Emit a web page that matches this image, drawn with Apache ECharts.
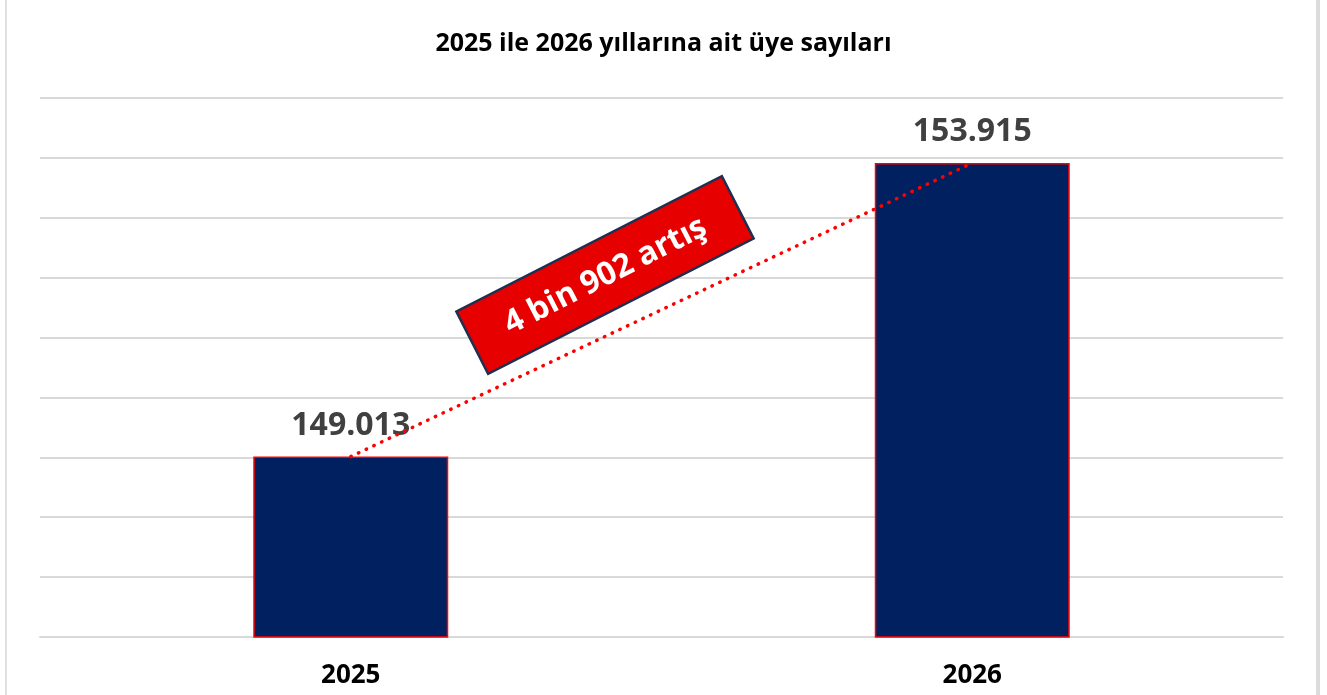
<!DOCTYPE html>
<html lang="tr">
<head>
    <meta charset="UTF-8">
    <title>Üye sayıları</title>
    <script src="https://cdn.jsdelivr.net/npm/echarts@6/dist/echarts.min.js"></script>
    <style>
        html, body {
            margin: 0;
            height: 100%;
            background: #fff;
        }
        #main {
            width: 1327px;
            height: 695px;
        }
    </style>
</head>
<body>
<div id="main"></div>
<script>
    // veriler
    var years = ['2025', '2026'];
    var members = [149013, 153915];
    var increaseText = '4 bin 902 artış';

    var fontFam = '"Open Sans", "Noto Sans", sans-serif';

    function fmt(v) {
        return String(v).replace(/\B(?=(\d{3})+(?!\d))/g, '.');
    }

    var myChart = echarts.init(document.getElementById('main'));
    var option = {
        backgroundColor: '#fff',
        animation: false,
        title: {
            text: '2025 ile 2026 yıllarına ait üye sayıları',
            left: 'center',
            top: 26,
            textStyle: {
                fontFamily: fontFam,
                fontSize: 25,
                fontWeight: 'bold',
                color: '#000'
            }
        },
        grid: {
            left: 40,
            right: 44,
            top: 98,
            bottom: 58
        },
        xAxis: {
            type: 'category',
            data: years,
            axisLine: {lineStyle: {color: '#d9d9d9', width: 2}},
            axisTick: {show: false},
            axisLabel: {
                margin: 26,
                fontFamily: fontFam,
                fontSize: 26,
                fontWeight: 'bold',
                color: '#000'
            }
        },
        yAxis: {
            type: 'value',
            min: 146000,
            max: 155000,
            interval: 1000,
            axisLabel: {show: false},
            axisLine: {show: false},
            axisTick: {show: false},
            splitLine: {lineStyle: {color: '#d9d9d9', width: 2}}
        },
        series: [{
            type: 'bar',
            data: members,
            barWidth: 195,
            itemStyle: {
                color: '#002060',
                borderColor: '#ff0000',
                borderWidth: 1.5
            },
            label: {
                show: true,
                position: 'top',
                distance: 15,
                formatter: function (p) {
                    return fmt(p.value);
                },
                fontFamily: fontFam,
                fontSize: 32,
                fontWeight: 'bold',
                color: '#404040'
            },
            markLine: {
                silent: true,
                symbol: 'none',
                label: {show: false},
                lineStyle: {
                    color: '#ff0000',
                    width: 3.5,
                    type: [0.5, 8],
                    cap: 'round'
                },
                data: [[
                    {coord: [years[0], members[0]]},
                    {coord: [years[1], members[1]]}
                ]]
            }
        }],
        graphic: [{
            type: 'group',
            x: 605,
            y: 275,
            z: 100,
            rotation: 27 * Math.PI / 180,
            children: [{
                type: 'rect',
                z: 100,
                shape: {x: -149, y: -35, width: 298, height: 70},
                style: {fill: '#e60000', stroke: '#1f2f50', lineWidth: 2.5}
            }, {
                type: 'text',
                z: 101,
                x: 0,
                y: 1,
                style: {
                    text: increaseText,
                    fill: '#fff',
                    font: 'bold 32px ' + fontFam,
                    align: 'center',
                    verticalAlign: 'middle'
                }
            }]
        }, {
            type: 'rect',
            shape: {x: 1316, y: 0, width: 4, height: 695},
            style: {fill: '#dcdcdc'}
        }, {
            type: 'rect',
            shape: {x: 5, y: 0, width: 2, height: 695},
            style: {fill: '#e0e0e0'}
        }]
    };
    myChart.setOption(option);
</script>
</body>
</html>
